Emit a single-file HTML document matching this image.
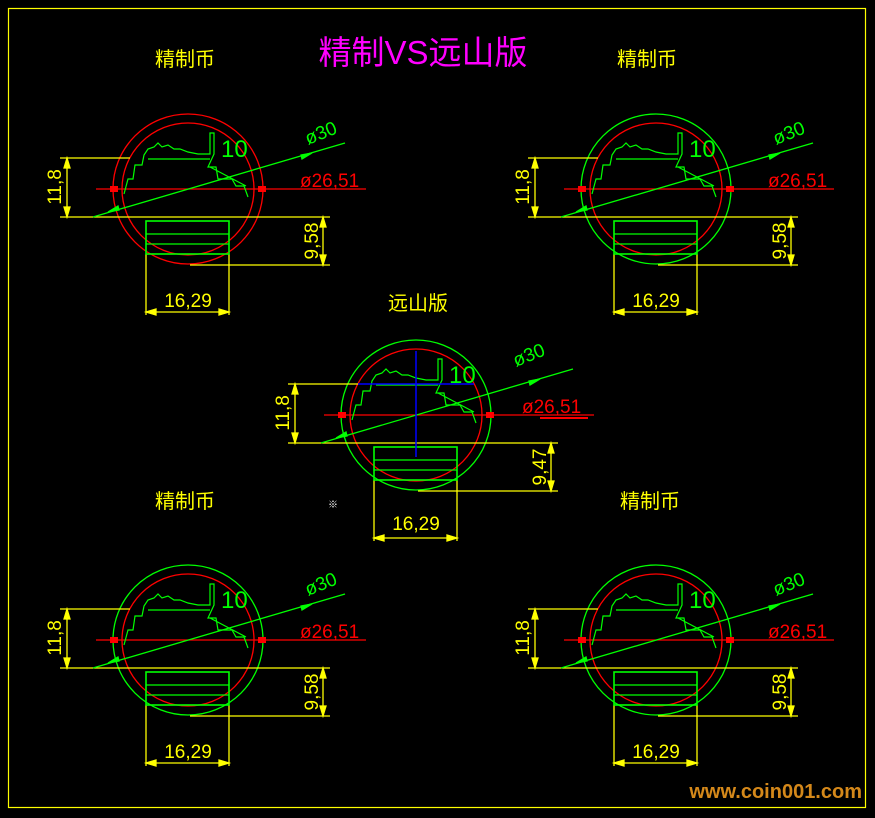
<!DOCTYPE html>
<html><head><meta charset="utf-8"><style>
html,body{margin:0;padding:0;background:#000;width:875px;height:818px;overflow:hidden}
svg{display:block}
text{font-family:"Liberation Sans","Noto Sans CJK SC",sans-serif}
</style></head><body>
<svg width="875" height="818" viewBox="0 0 875 818" xmlns="http://www.w3.org/2000/svg">
<defs>
<g id="coin" fill="none" stroke-width="1.3">
  <circle cx="0" cy="0" r="66" stroke="#f00"/>
  <path d="M-128,-31H-58 M-128,28H142 M-121,-31V28 M2,76H142 M135,28V76 M-42,65V126 M41,65V126 M-42,123H41" stroke="#ff0"/>
  <path d="M-121,-31l-3,10h6z M-121,28l-3,-10h6z M135,28l-3,10h6z M135,76l-3,-10h6z M-42,123l10,-3v6z M41,123l-10,-3v6z" fill="#ff0" stroke="#ff0"/>
  <path d="M-92,0H178" stroke="#f00"/>
  <rect x="-78" y="-3" width="8" height="6" fill="#f00"/>
  <rect x="70" y="-3" width="8" height="6" fill="#f00"/>
  <path d="M-95,28L157,-46" stroke="#0f0"/>
  <path d="M-80,23l10,-6l1,4z M124,-36l-10,6l-1,-4z" fill="#0f0" stroke="#0f0"/>
  <rect x="-42" y="32" width="83" height="33" stroke="#0f0" stroke-width="1.6"/>
  <path d="M-42,45H41 M-42,55H41" stroke="#0f0"/>
  <path d="M-64,5 L-60,-10 L-55,-10 L-53,-24 L-46,-24 L-44,-34 L-40,-40 L-34,-42 L-30,-46 L-26,-42 L-20,-44 L-14,-40 L-8,-40 L0,-37 L10,-35 L22,-35 L22,-56 L26,-56 L26,-35 L20,-22 L28,-22 L30,-10 L44,-10 L48,-3 L56,-3 L60,8 M-40,-30H22 M22,-22 L58,-3" stroke="#0f0" stroke-width="1.2"/>
</g>
</defs>
<rect x="8.5" y="8.5" width="857" height="799" fill="none" stroke="#ff0" stroke-width="1.2"/>
<text x="423" y="64" fill="#f0f" font-size="33" text-anchor="middle">精制VS远山版</text>
<g fill="#ff0" font-size="20" text-anchor="middle">
<text x="185" y="66">精制币</text><text x="647" y="66">精制币</text>
<text x="418" y="310">远山版</text>
<text x="185" y="508">精制币</text><text x="650" y="508">精制币</text>
</g>

<g transform="translate(188,189)"><circle r="75" fill="none" stroke="#f00" stroke-width="1.3"/><use href="#coin"/></g>
<g transform="translate(656,189)"><circle r="75" fill="none" stroke="#0f0" stroke-width="1.3"/><use href="#coin"/></g>
<g transform="translate(416,415)"><circle r="75" fill="none" stroke="#0f0" stroke-width="1.3"/><use href="#coin"/>
 <path d="M0,-64V42 M-58,-31H58" stroke="#00f" stroke-width="1.5"/><path d="M124,3H172" stroke="#f00" stroke-width="2"/></g>
<g transform="translate(188,640)"><circle r="75" fill="none" stroke="#0f0" stroke-width="1.3"/><use href="#coin"/></g>
<g transform="translate(656,640)"><circle r="75" fill="none" stroke="#0f0" stroke-width="1.3"/><use href="#coin"/></g>

<g font-size="19">
<g transform="translate(188,189)">
 <text x="33" y="-32" fill="#0f0" font-size="24">10</text>
 <text x="112" y="-2" fill="#f00">ø26,51</text>
 <text transform="translate(120,-44) rotate(-22)" fill="#0f0">ø30</text>
 <text x="0" y="118" fill="#ff0" text-anchor="middle">16,29</text>
 <text transform="translate(-127,-2) rotate(-90)" fill="#ff0" text-anchor="middle">11,8</text>
 <text transform="translate(130,52) rotate(-90)" fill="#ff0" text-anchor="middle">9,58</text>
</g>
<g transform="translate(656,189)">
 <text x="33" y="-32" fill="#0f0" font-size="24">10</text>
 <text x="112" y="-2" fill="#f00">ø26,51</text>
 <text transform="translate(120,-44) rotate(-22)" fill="#0f0">ø30</text>
 <text x="0" y="118" fill="#ff0" text-anchor="middle">16,29</text>
 <text transform="translate(-127,-2) rotate(-90)" fill="#ff0" text-anchor="middle">11,8</text>
 <text transform="translate(130,52) rotate(-90)" fill="#ff0" text-anchor="middle">9,58</text>
</g>
<g transform="translate(416,415)">
 <text x="33" y="-32" fill="#0f0" font-size="24">10</text>
 <text x="106" y="-2" fill="#f00">ø26,51</text>
 <text transform="translate(100,-48) rotate(-22)" fill="#0f0">ø30</text>
 <text x="0" y="115" fill="#ff0" text-anchor="middle">16,29</text>
 <text transform="translate(-127,-2) rotate(-90)" fill="#ff0" text-anchor="middle">11,8</text>
 <text transform="translate(130,52) rotate(-90)" fill="#ff0" text-anchor="middle">9,47</text>
 <text x="-88" y="93" fill="#fff" font-size="10">※</text>
</g>
<g transform="translate(188,640)">
 <text x="33" y="-32" fill="#0f0" font-size="24">10</text>
 <text x="112" y="-2" fill="#f00">ø26,51</text>
 <text transform="translate(120,-44) rotate(-22)" fill="#0f0">ø30</text>
 <text x="0" y="118" fill="#ff0" text-anchor="middle">16,29</text>
 <text transform="translate(-127,-2) rotate(-90)" fill="#ff0" text-anchor="middle">11,8</text>
 <text transform="translate(130,52) rotate(-90)" fill="#ff0" text-anchor="middle">9,58</text>
</g>
<g transform="translate(656,640)">
 <text x="33" y="-32" fill="#0f0" font-size="24">10</text>
 <text x="112" y="-2" fill="#f00">ø26,51</text>
 <text transform="translate(120,-44) rotate(-22)" fill="#0f0">ø30</text>
 <text x="0" y="118" fill="#ff0" text-anchor="middle">16,29</text>
 <text transform="translate(-127,-2) rotate(-90)" fill="#ff0" text-anchor="middle">11,8</text>
 <text transform="translate(130,52) rotate(-90)" fill="#ff0" text-anchor="middle">9,58</text>
</g>
</g>
<text x="862" y="798" fill="#d4881a" font-size="20" font-weight="bold" text-anchor="end">www.coin001.com</text>
</svg>
</body></html>
